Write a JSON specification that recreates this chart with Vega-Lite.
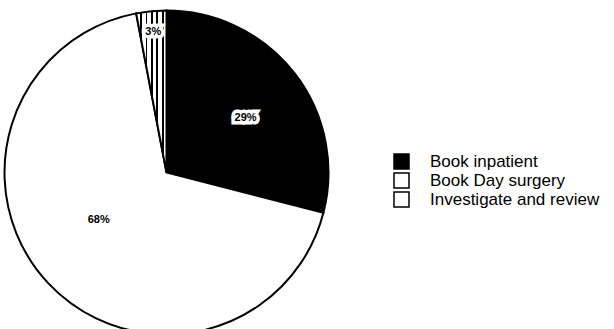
{
  "$schema": "https://vega.github.io/schema/vega-lite/v6.json",
  "width": 333,
  "height": 345,
  "padding": 0,
  "autosize": {"type": "pad"},
  "background": "white",
  "config": {"view": {"stroke": null}},
  "data": {
    "values": [
      {"cat": "Book inpatient", "value": 29, "label": "29%", "rank": 1},
      {"cat": "Book Day surgery", "value": 68, "label": "68%", "rank": 2},
      {"cat": "Investigate and review", "value": 3, "label": "3%", "rank": 3}
    ]
  },
  "encoding": {
    "theta": {"field": "value", "type": "quantitative", "stack": true},
    "order": {"field": "rank", "type": "quantitative"}
  },
  "layer": [
    {
      "mark": {"type": "arc", "outerRadius": 162, "stroke": "black", "strokeWidth": 2},
      "encoding": {
        "fill": {
          "condition": {
            "test": "datum.cat === 'Investigate and review'",
            "value": {
              "gradient": "linear",
              "x1": 0, "y1": 0, "x2": 1, "y2": 0,
              "stops": [
                {"offset": 0, "color": "white"},
                {"offset": 0.13, "color": "white"},
                {"offset": 0.13, "color": "black"},
                {"offset": 0.19, "color": "black"},
                {"offset": 0.19, "color": "white"},
                {"offset": 0.31, "color": "white"},
                {"offset": 0.31, "color": "black"},
                {"offset": 0.37, "color": "black"},
                {"offset": 0.37, "color": "white"},
                {"offset": 0.49, "color": "white"},
                {"offset": 0.49, "color": "black"},
                {"offset": 0.55, "color": "black"},
                {"offset": 0.55, "color": "white"},
                {"offset": 0.67, "color": "white"},
                {"offset": 0.67, "color": "black"},
                {"offset": 0.73, "color": "black"},
                {"offset": 0.73, "color": "white"},
                {"offset": 0.85, "color": "white"},
                {"offset": 0.85, "color": "black"},
                {"offset": 0.91, "color": "black"},
                {"offset": 0.91, "color": "white"},
                {"offset": 1, "color": "white"}
              ]
            }
          },
          "field": "cat",
          "type": "nominal",
          "scale": {
            "domain": ["Book inpatient", "Book Day surgery", "Investigate and review"],
            "range": ["black", "white", "white"]
          },
          "legend": {
            "title": null,
            "orient": "none",
            "legendX": 393,
            "legendY": 153,
            "padding": 0,
            "symbolType": "square",
            "symbolSize": 225,
            "symbolStrokeColor": "black",
            "symbolStrokeWidth": 1.5,
            "labelFont": "Liberation Sans",
            "labelFontSize": 17,
            "labelColor": "black",
            "labelOffset": 20,
            "labelLimit": 400,
            "rowPadding": -2,
            "encode": {
              "symbols": {
                "update": {
                  "stroke": {"value": "black"},
                  "strokeWidth": {"value": 1.5},
                  "opacity": {"value": 1},
                  "shape": {
                    "condition": {
                      "test": "datum.value === 'Investigate and review'",
                      "value": "M-1,-1H1V1H-1Z M-0.5,-1V1 M0,-1V1 M0.5,-1V1"
                    },
                    "value": "square"
                  }
                }
              }
            }
          }
        }
      }
    },
    {
      "mark": {"type": "text", "radius": 96, "thetaOffset": 0.056, "font": "Liberation Sans", "fontWeight": "bold", "fontSize": 11, "fill": "white", "stroke": "white", "strokeWidth": 7, "strokeJoin": "miter"},
      "encoding": {"text": {"condition": {"test": "datum.cat === 'Book inpatient'", "field": "label", "type": "nominal"}, "value": ""}}
    },
    {
      "mark": {"type": "text", "radius": 96, "thetaOffset": 0.056, "font": "Liberation Sans", "fontWeight": "bold", "fontSize": 11, "fill": "black"},
      "encoding": {"text": {"condition": {"test": "datum.cat === 'Book inpatient'", "field": "label", "type": "nominal"}, "value": ""}}
    },
    {
      "mark": {"type": "text", "radius": 83, "thetaOffset": 0.14, "font": "Liberation Sans", "fontWeight": "bold", "fontSize": 11, "fill": "black"},
      "encoding": {"text": {"condition": {"test": "datum.cat === 'Book Day surgery'", "field": "label", "type": "nominal"}, "value": ""}}
    },
    {
      "mark": {"type": "text", "radius": 141, "font": "Liberation Sans", "fontWeight": "bold", "fontSize": 11, "fill": "white", "stroke": "white", "strokeWidth": 7, "strokeJoin": "miter"},
      "encoding": {"text": {"condition": {"test": "datum.cat === 'Investigate and review'", "field": "label", "type": "nominal"}, "value": ""}}
    },
    {
      "mark": {"type": "text", "radius": 141, "font": "Liberation Sans", "fontWeight": "bold", "fontSize": 11, "fill": "black"},
      "encoding": {"text": {"condition": {"test": "datum.cat === 'Investigate and review'", "field": "label", "type": "nominal"}, "value": ""}}
    }
  ]
}
